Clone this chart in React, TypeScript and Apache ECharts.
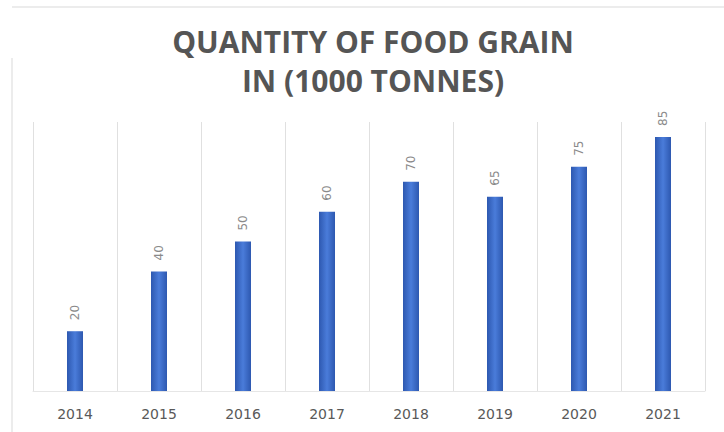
import React, { useEffect, useRef } from "react";
import * as echarts from "echarts";

const years = ["2014", "2015", "2016", "2017", "2018", "2019", "2020", "2021"];
const quantities = [20, 40, 50, 60, 70, 65, 75, 85];
const titleLines = ["QUANTITY OF FOOD GRAIN", "IN (1000 TONNES)"];

export default function App() {
  const ref = useRef<HTMLDivElement>(null);
  useEffect(() => {
    if (!ref.current) return;
    const chart = echarts.init(ref.current, undefined, { renderer: "svg" });
    chart.setOption({
      animation: false,
      backgroundColor: "#ffffff",
      title: {
        text: titleLines.join("\n"),
        left: 368,
        textAlign: "center",
        top: 17,
        textStyle: {
          fontFamily: "Open Sans",
          fontWeight: "bold",
          fontSize: 30,
          lineHeight: 39,
          color: "#555555",
        },
      },
      graphic: [
        { type: "line", shape: { x1: 12, y1: 7, x2: 724, y2: 7 }, style: { stroke: "#d9d9d9", lineWidth: 1 } },
        { type: "line", shape: { x1: 12, y1: 58, x2: 12, y2: 432 }, style: { stroke: "#d9d9d9", lineWidth: 1 } },
      ],
      grid: { left: 33, right: 19, top: 122, bottom: 41 },
      xAxis: {
        type: "category",
        data: years,
        axisTick: { show: false },
        axisLine: { show: true, lineStyle: { color: "#e6e6e6" } },
        axisLabel: {
          color: "#595959",
          fontFamily: "DejaVu Sans",
          fontSize: 14,
          margin: 16,
        },
        splitLine: { show: true, lineStyle: { color: "#e0e0e0", width: 1 } },
      },
      yAxis: {
        type: "value",
        min: 0,
        max: 90,
        show: false,
        splitLine: { show: false },
      },
      series: [
        {
          type: "bar",
          data: quantities,
          barWidth: 16,
          itemStyle: {
            color: new echarts.graphic.LinearGradient(0, 0, 1, 0, [
              { offset: 0, color: "#2d58b0" },
              { offset: 0.5, color: "#4a7cda" },
              { offset: 1, color: "#2d58b0" },
            ]),
          },
          label: {
            show: true,
            position: "top",
            rotate: 90,
            align: "left",
            verticalAlign: "middle",
            distance: 11,
            color: "#8a8a8a",
            fontFamily: "DejaVu Sans",
            fontSize: 12,
          },
        },
      ],
    });
    return () => chart.dispose();
  }, []);
  return <div ref={ref} style={{ width: 724, height: 432, position: "absolute", left: 0, top: 0 }} />;
}
